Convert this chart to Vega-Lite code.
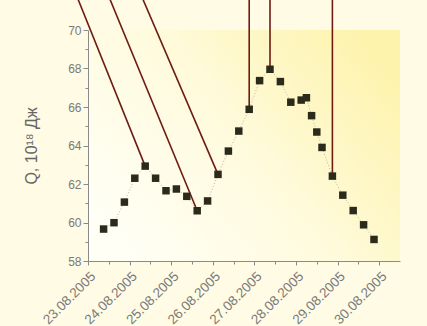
{
  "$schema": "https://vega.github.io/schema/vega-lite/v6.json",
  "width": 312,
  "height": 231,
  "autosize": "none",
  "padding": {"left": 88, "top": 30, "right": 27, "bottom": 65},
  "background": "#fffbe4",
  "config": {
    "font": "Liberation Sans",
    "view": {
      "stroke": null,
      "fill": {
        "gradient": "linear",
        "x1": 0, "y1": 0.8, "x2": 1, "y2": 0.2,
        "stops": [
          {"offset": 0, "color": "#fffff6"},
          {"offset": 0.45, "color": "#fffbe0"},
          {"offset": 1, "color": "#fdf3ac"}
        ]
      }
    },
    "axis": {
      "grid": false,
      "domainColor": "#8a8a8a",
      "tickColor": "#8a8a8a",
      "labelColor": "#7a7a7a",
      "titleColor": "#666666",
      "labelFont": "Liberation Sans",
      "titleFont": "Liberation Sans"
    }
  },
  "datasets": {
    "pts": [
      {"date": "2005-08-23T09:00:00Z", "Q": 59.66},
      {"date": "2005-08-23T15:00:00Z", "Q": 59.99},
      {"date": "2005-08-23T21:00:00Z", "Q": 61.06},
      {"date": "2005-08-24T03:00:00Z", "Q": 62.30},
      {"date": "2005-08-24T09:00:00Z", "Q": 62.93},
      {"date": "2005-08-24T15:00:00Z", "Q": 62.30},
      {"date": "2005-08-24T21:00:00Z", "Q": 61.65},
      {"date": "2005-08-25T03:00:00Z", "Q": 61.74},
      {"date": "2005-08-25T09:00:00Z", "Q": 61.36},
      {"date": "2005-08-25T15:00:00Z", "Q": 60.61},
      {"date": "2005-08-25T21:00:00Z", "Q": 61.12},
      {"date": "2005-08-26T03:00:00Z", "Q": 62.50},
      {"date": "2005-08-26T09:00:00Z", "Q": 63.71},
      {"date": "2005-08-26T15:00:00Z", "Q": 64.75},
      {"date": "2005-08-26T21:00:00Z", "Q": 65.88},
      {"date": "2005-08-27T03:00:00Z", "Q": 67.37},
      {"date": "2005-08-27T09:00:00Z", "Q": 67.96},
      {"date": "2005-08-27T15:00:00Z", "Q": 67.32},
      {"date": "2005-08-27T21:00:00Z", "Q": 66.25},
      {"date": "2005-08-28T03:00:00Z", "Q": 66.36},
      {"date": "2005-08-28T06:00:00Z", "Q": 66.48},
      {"date": "2005-08-28T09:00:00Z", "Q": 65.55},
      {"date": "2005-08-28T12:00:00Z", "Q": 64.70},
      {"date": "2005-08-28T15:00:00Z", "Q": 63.90},
      {"date": "2005-08-28T21:00:00Z", "Q": 62.41},
      {"date": "2005-08-29T03:00:00Z", "Q": 61.42},
      {"date": "2005-08-29T09:00:00Z", "Q": 60.62},
      {"date": "2005-08-29T15:00:00Z", "Q": 59.88},
      {"date": "2005-08-29T21:00:00Z", "Q": 59.12}
    ],
    "links": [
      {"date": "2005-08-24T09:00:00Z", "Q": 62.93, "fromDate": "2005-08-22T18:15:00Z", "fromQ": 71.6},
      {"date": "2005-08-25T15:00:00Z", "Q": 60.61, "fromDate": "2005-08-23T12:40:00Z", "fromQ": 71.6},
      {"date": "2005-08-26T03:00:00Z", "Q": 62.50, "fromDate": "2005-08-24T07:40:00Z", "fromQ": 71.6},
      {"date": "2005-08-26T21:00:00Z", "Q": 65.88, "fromDate": "2005-08-26T21:00:00Z", "fromQ": 71.6},
      {"date": "2005-08-27T09:00:00Z", "Q": 67.96, "fromDate": "2005-08-27T09:00:00Z", "fromQ": 71.6},
      {"date": "2005-08-28T21:00:00Z", "Q": 62.41, "fromDate": "2005-08-28T21:00:00Z", "fromQ": 71.6}
    ]
  },
  "resolve": {"axis": {"x": "independent", "y": "independent"}},
  "layer": [
    {
      "data": {"name": "pts"},
      "mark": {"type": "line", "stroke": "#c4b2a4", "strokeWidth": 1, "strokeDash": [1, 2], "clip": false},
      "encoding": {
        "x": {
          "field": "date", "type": "temporal",
          "scale": {"type": "utc", "domain": [{"year": 2005, "month": 8, "date": 23, "utc": true}, {"year": 2005, "month": 8, "date": 30, "hours": 12, "utc": true}]},
          "axis": {
            "orient": "bottom", "title": null, "labels": false, "domain": false, "tickSize": 3,
            "values": [
              {"year": 2005, "month": 8, "date": 23, "hours": 12, "utc": true},
              {"year": 2005, "month": 8, "date": 24, "hours": 12, "utc": true},
              {"year": 2005, "month": 8, "date": 25, "hours": 12, "utc": true},
              {"year": 2005, "month": 8, "date": 26, "hours": 12, "utc": true},
              {"year": 2005, "month": 8, "date": 27, "hours": 12, "utc": true},
              {"year": 2005, "month": 8, "date": 28, "hours": 12, "utc": true},
              {"year": 2005, "month": 8, "date": 29, "hours": 12, "utc": true}
            ]
          }
        },
        "y": {
          "field": "Q", "type": "quantitative",
          "scale": {"domain": [58, 70], "nice": false, "zero": false},
          "axis": {"orient": "left", "title": null, "labels": false, "domain": false, "tickSize": 3, "values": [59, 61, 63, 65, 67, 69]}
        }
      }
    },
    {
      "data": {"name": "links"},
      "mark": {"type": "rule", "stroke": "#6e1c12", "strokeWidth": 1.6, "clip": false},
      "encoding": {
        "x": {"field": "date", "type": "temporal", "axis": null},
        "y": {"field": "Q", "type": "quantitative", "axis": null},
        "x2": {"field": "fromDate"},
        "y2": {"field": "fromQ"}
      }
    },
    {
      "data": {"name": "pts"},
      "mark": {"type": "point", "shape": "square", "filled": true, "size": 56, "color": "#2b2b1c", "opacity": 1},
      "encoding": {
        "x": {
          "field": "date", "type": "temporal",
          "axis": {
            "orient": "bottom", "title": null,
            "labelExpr": "utcFormat(datum.value, '%d.%m.%Y')",
            "tickCount": {"interval": "day", "step": 1},
            "labelAngle": -45, "labelFontSize": 13.5, "tickSize": 4, "labelPadding": 4, "labelFlush": false, "labelOverlap": false
          }
        },
        "y": {
          "field": "Q", "type": "quantitative",
          "axis": {
            "orient": "left", "values": [58, 60, 62, 64, 66, 68, 70], "tickSize": 5, "labelPadding": 2, "labelFontSize": 12,
            "title": "Q, 10¹⁸ Дж", "titleFontSize": 16, "titleFontWeight": "normal", "titlePadding": 28
          }
        }
      }
    }
  ]
}
